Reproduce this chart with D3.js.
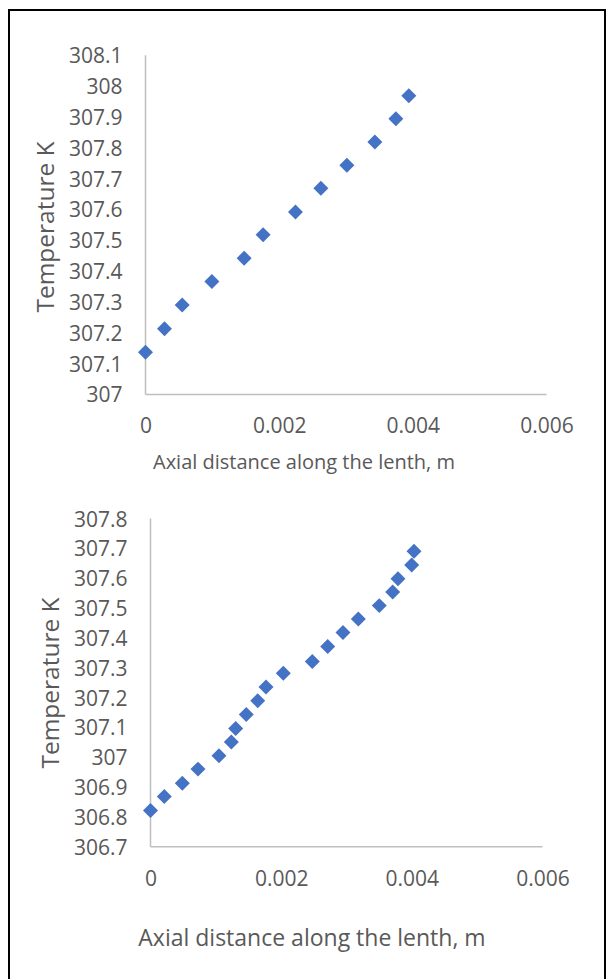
<!DOCTYPE html>
<html>
<head>
<meta charset="utf-8">
<script src="https://cdn.jsdelivr.net/npm/d3@7"></script>
<style>
  body { margin: 0; background: #fff; }
  svg text { font-family: "Open Sans", sans-serif; fill: #595959; }
</style>
</head>
<body>
<svg id="chart" width="608" height="979"></svg>
<script>
// data
var xTicks = [0, 0.002, 0.004, 0.006];

var topX = [0, 0.000284, 0.000549, 0.000993, 0.001476, 0.00176, 0.002244, 0.002624, 0.003013, 0.003432, 0.003746, 0.00394];
var topY = [307.137, 307.213, 307.290, 307.366, 307.442, 307.518, 307.592, 307.669, 307.743, 307.819, 307.894, 307.969];
var topYTicks = [307, 307.1, 307.2, 307.3, 307.4, 307.5, 307.6, 307.7, 307.8, 307.9, 308, 308.1];

var botX = [0, 0.000211, 0.000487, 0.000727, 0.001048, 0.001237, 0.001304, 0.001466, 0.001641, 0.001768,
            0.002033, 0.002477, 0.002712, 0.002946, 0.003181, 0.003502, 0.003707, 0.003788, 0.003998, 0.004033];
var botY = [306.821, 306.868, 306.913, 306.960, 307.005, 307.051, 307.096, 307.143, 307.189, 307.235,
            307.281, 307.321, 307.371, 307.418, 307.463, 307.508, 307.554, 307.598, 307.644, 307.690];
var botYTicks = [306.7, 306.8, 306.9, 307, 307.1, 307.2, 307.3, 307.4, 307.5, 307.6, 307.7, 307.8];

var xTitle = "Axial distance along the lenth, m";
var yTitle = "Temperature K";

var svg = d3.select("#chart");

// outer frame
svg.append("rect")
  .attr("x", 9).attr("y", 10)
  .attr("width", 596).attr("height", 990)
  .attr("fill", "none")
  .attr("stroke", "#000")
  .attr("stroke-width", 2);

function drawChart(opt) {
  var x = d3.scaleLinear().domain([0, 0.006]).range([opt.left, opt.right]);
  var y = d3.scaleLinear().domain([opt.yTicks[0], opt.yTicks[opt.yTicks.length - 1]]).range([opt.bottom, opt.top]);

  var g = svg.append("g");

  var yAxis = d3.axisLeft(y)
    .tickValues(opt.yTicks)
    .tickSize(0)
    .tickPadding(23)
    .tickFormat(function(d){ return String(+d.toFixed(1)); });

  var xAxis = d3.axisBottom(x)
    .tickValues(xTicks)
    .tickSize(0)
    .tickPadding(24)
    .tickFormat(function(d){ return d === 0 ? "0" : d.toFixed(3); });

  var ya = g.append("g")
    .attr("transform", "translate(" + opt.left + ",0)")
    .call(yAxis);
  ya.select(".domain").remove();
  ya.selectAll("text").style("font-size", "21px").attr("dy", "0.36em");

  var xa = g.append("g")
    .attr("transform", "translate(0," + opt.bottom + ")")
    .call(xAxis);
  xa.select(".domain").remove();
  xa.selectAll("text").style("font-size", "21px");

  // axis lines
  g.append("line")
    .attr("x1", opt.left).attr("x2", opt.left)
    .attr("y1", opt.top).attr("y2", opt.bottom)
    .attr("stroke", "#bfbfbf").attr("stroke-width", 1.5);
  g.append("line")
    .attr("x1", opt.left).attr("x2", opt.right)
    .attr("y1", opt.bottom).attr("y2", opt.bottom)
    .attr("stroke", "#bfbfbf").attr("stroke-width", 1.5);

  // markers
  var pts = opt.xs.map(function(v, i){ return {x: v, y: opt.ys[i]}; });
  g.selectAll("path.pt")
    .data(pts)
    .enter().append("path")
      .attr("class", "pt")
      .attr("d", d3.symbol(d3.symbolSquare).size(112))
      .attr("transform", function(d){ return "translate(" + x(d.x) + "," + y(d.y) + ") rotate(45)"; })
      .attr("fill", "#4472c4");

  // titles
  g.append("text")
    .attr("x", opt.xTitleX).attr("y", opt.xTitleY)
    .attr("text-anchor", "middle")
    .attr("dy", "0.35em")
    .style("font-size", opt.xTitleSize + "px")
    .text(xTitle);

  g.append("text")
    .attr("transform", "translate(" + opt.yTitleX + "," + opt.yTitleY + ") rotate(-90)")
    .attr("text-anchor", "middle")
    .attr("dy", "0.35em")
    .style("font-size", "24.5px")
    .text(yTitle);
}

drawChart({
  xs: topX, ys: topY, yTicks: topYTicks,
  left: 145.5, right: 546.5, top: 55.3, bottom: 394.4,
  xTitleX: 304, xTitleY: 462, xTitleSize: 20,
  yTitleX: 45, yTitleY: 227
});

drawChart({
  xs: botX, ys: botY, yTicks: botYTicks,
  left: 150.5, right: 542.5, top: 518.5, bottom: 846.7,
  xTitleX: 312, xTitleY: 938, xTitleSize: 23,
  yTitleX: 50, yTitleY: 683
});
</script>
</body>
</html>
